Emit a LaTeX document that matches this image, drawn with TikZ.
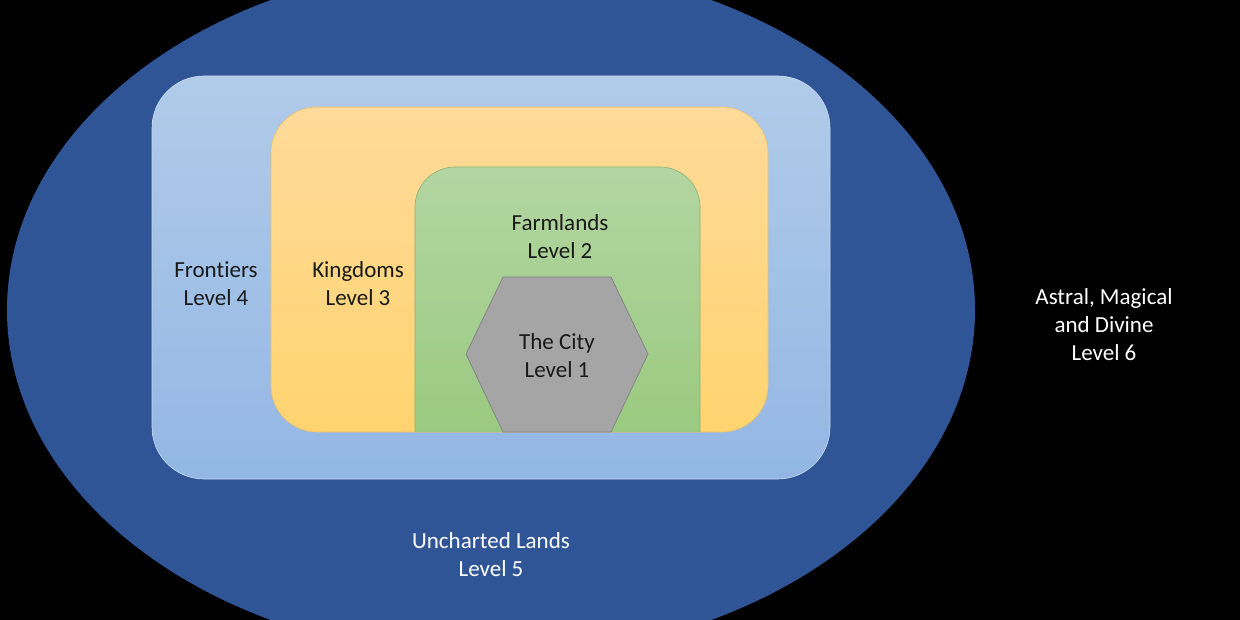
\documentclass[tikz,border=0pt]{standalone}
\usepackage{fontspec}
\setmainfont{Carlito}[Ligatures={NoCommon}]
\begin{document}
\begin{tikzpicture}[x=1pt,y=-1pt,
  lbl/.style={align=center,inner sep=0pt,font=\fontsize{23}{28}\selectfont},
  darklbl/.style={lbl,text=black!90},
  lightlbl/.style={lbl,text=white},
  zone/.style={rectangle,inner sep=0pt,anchor=north west}]
\definecolor{deepblue}{HTML}{2F5597}
\definecolor{lbtop}{HTML}{B1CBE9}
\definecolor{lbbot}{HTML}{93B7E4}
\definecolor{ortop}{HTML}{FFDA9A}
\definecolor{orbot}{HTML}{FFD46F}
\definecolor{grtop}{HTML}{B3D5A2}
\definecolor{grbot}{HTML}{9ACA80}
\definecolor{grline}{HTML}{8DB173}
\definecolor{orline}{HTML}{E8C070}
\definecolor{hexfill}{HTML}{A5A5A5}
\definecolor{hexline}{HTML}{858585}
% background
\fill[black] (0,0) rectangle (1240,620);
\useasboundingbox (0,0) rectangle (1240,620);
% level 5 ellipse
\fill[deepblue] (491,310) ellipse [x radius=484pt, y radius=348pt];
% level 4
\shade[top color=lbtop,bottom color=lbbot,rounded corners=52pt,draw=lbtop!70!white,line width=0.6pt]
  (152,76) rectangle (830,479);
% level 3
\shade[top color=ortop,bottom color=orbot,rounded corners=46pt,draw=orline,line width=0.6pt]
  (271,107) rectangle (768,432);
% level 2 (top corners rounded)
\shade[top color=grtop,bottom color=grbot,draw=grline,line width=0.6pt]
  (415,432) -- (415,207) arc[start angle=180,end angle=90,radius=40pt]
  -- (660,167) arc[start angle=90,end angle=0,radius=40pt] -- (700,432);
% level 1 hexagon
\coordinate (h1) at (466,354);
\coordinate (h2) at (503,277);
\coordinate (h3) at (611,277);
\coordinate (h4) at (648,354);
\coordinate (h5) at (611,432);
\coordinate (h6) at (503,432);
\filldraw[fill=hexfill,draw=hexline,line width=0.8pt] (h1) -- (h2) -- (h3) -- (h4) -- (h5) -- (h6) -- cycle;
% labels
\node[darklbl] (t1) at (557,355.5) {The City\\Level 1};
\node[darklbl] (t2) at (560,236.5) {Farmlands\\Level 2};
\node[darklbl] (t3) at (358,283.5) {Kingdoms\\Level 3};
\node[darklbl] (t4) at (216,283.5) {Frontiers\\Level 4};
\node[lightlbl] (t5) at (491,554.5) {Uncharted Lands\\Level 5};
\node[lightlbl] (t6) at (1104,324.5) {Astral, Magical\\and Divine\\Level 6};
\end{tikzpicture}
\end{document}
